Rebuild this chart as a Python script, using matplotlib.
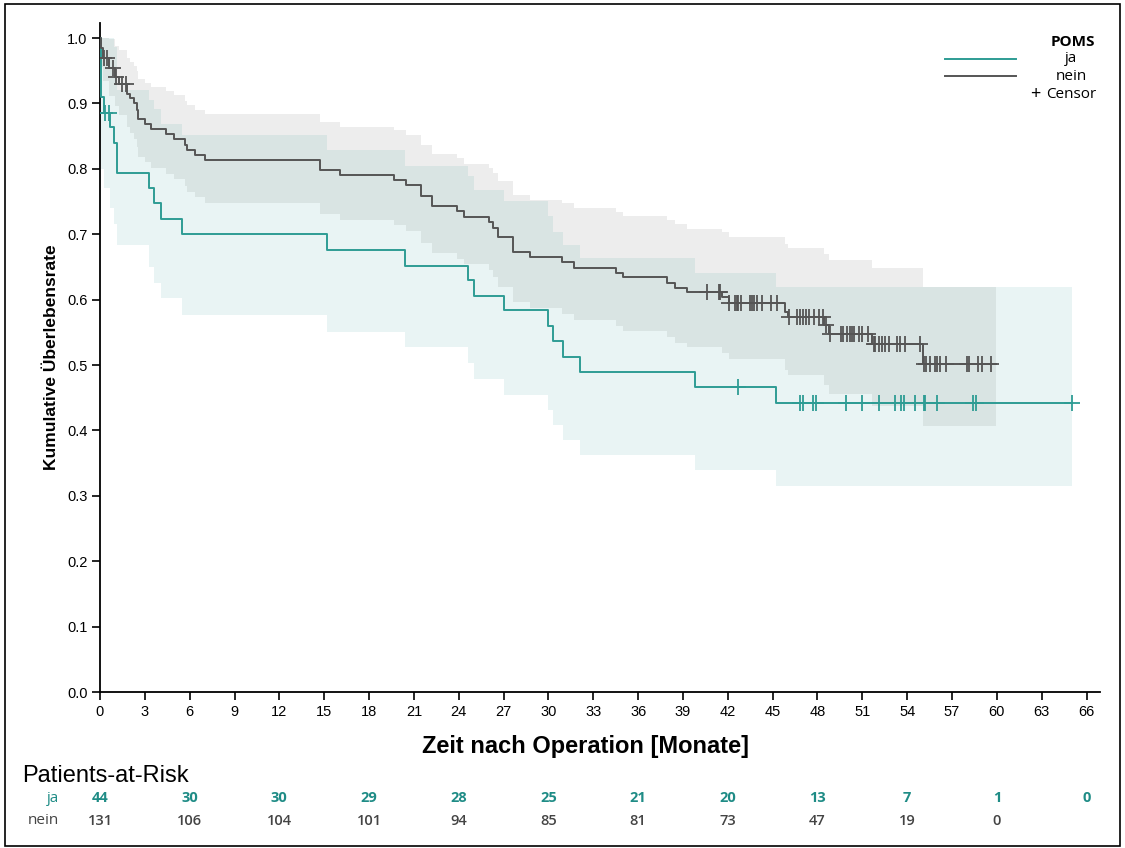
import numpy as np
import matplotlib
matplotlib.use("Agg")
import matplotlib.pyplot as plt
from matplotlib.patches import Rectangle

W, H = 1125, 848

TEAL = '#2e9c94'
TEAL_TXT = '#1f8c86'
GREY = '#555555'
GREY_TXT = '#444444'

# ---- Kaplan-Meier steps: time [months], survival, lower CI, upper CI
ja_t = [0, 0.1, 0.25, 0.7, 0.95, 1.15, 3.3, 3.6, 4.1, 5.5, 15.2, 20.4, 24.6, 25.0, 27.0,
        30.0, 30.3, 31.0, 32.1, 39.8, 45.2, 65.0]
ja_s = [1.0, 0.910, 0.886, 0.864, 0.840, 0.793, 0.770, 0.748, 0.723, 0.700, 0.676, 0.652,
        0.630, 0.606, 0.584, 0.560, 0.536, 0.513, 0.490, 0.466, 0.442, 0.442]
ja_lo = [1.0, 0.800, 0.770, 0.740, 0.715, 0.683, 0.650, 0.625, 0.602, 0.576, 0.551, 0.528,
         0.503, 0.478, 0.454, 0.431, 0.408, 0.385, 0.362, 0.339, 0.315, 0.315]
ja_hi = [1.0, 1.0, 1.0, 1.0, 0.987, 0.921, 0.905, 0.891, 0.868, 0.851, 0.829, 0.805,
         0.789, 0.768, 0.751, 0.728, 0.704, 0.684, 0.663, 0.641, 0.620, 0.620]
ja_cens = [0.35, 0.6, 42.7, 46.8, 47.0, 47.7, 47.9, 49.9, 51.0, 52.1, 53.2, 53.6, 53.8,
           54.5, 55.1, 55.2, 56.0, 58.4, 58.6, 65.0]

nein_t = [0, 0.1, 0.2, 0.6, 1.0, 1.3, 1.8, 2.0, 2.3, 2.45, 2.56, 3.0, 3.4, 4.4, 4.95, 5.7,
          5.8, 6.35, 7.05, 14.7, 16.05, 19.7, 20.5, 21.5, 22.2, 23.9, 24.35, 26.05, 26.3,
          26.65, 27.65, 28.75, 30.9, 31.7, 34.5, 35.0, 37.9, 38.5, 39.25, 41.6, 42.05,
          45.8, 46.0, 48.45, 48.8, 51.65, 55.05, 59.97]
nein_s = [1.0, 0.985, 0.969, 0.954, 0.941, 0.930, 0.915, 0.908, 0.900, 0.890, 0.876, 0.869,
          0.861, 0.853, 0.846, 0.836, 0.829, 0.821, 0.813, 0.798, 0.790, 0.783, 0.775,
          0.758, 0.743, 0.735, 0.727, 0.719, 0.709, 0.696, 0.673, 0.665, 0.657, 0.649,
          0.641, 0.634, 0.626, 0.618, 0.611, 0.604, 0.595, 0.581, 0.574, 0.561, 0.548,
          0.532, 0.502, 0.502]
nein_lo = [1.0, 0.955, 0.935, 0.912, 0.896, 0.882, 0.864, 0.855, 0.846, 0.834, 0.818, 0.810,
           0.801, 0.792, 0.784, 0.773, 0.765, 0.757, 0.748, 0.731, 0.722, 0.714, 0.705,
           0.687, 0.671, 0.662, 0.654, 0.645, 0.634, 0.620, 0.596, 0.587, 0.578, 0.569,
           0.560, 0.552, 0.543, 0.534, 0.527, 0.519, 0.509, 0.493, 0.485, 0.470, 0.455,
           0.437, 0.406, 0.406]
nein_hi = [1.0, 1.0, 1.0, 0.998, 0.988, 0.981, 0.969, 0.964, 0.957, 0.950, 0.938, 0.932,
           0.925, 0.919, 0.913, 0.904, 0.898, 0.890, 0.884, 0.871, 0.864, 0.859, 0.852,
           0.836, 0.823, 0.816, 0.808, 0.801, 0.793, 0.781, 0.760, 0.753, 0.747, 0.740,
           0.734, 0.728, 0.722, 0.715, 0.708, 0.703, 0.696, 0.685, 0.679, 0.670, 0.660,
           0.648, 0.620, 0.620]
nein_cens = [0.3, 0.5, 0.9, 1.1, 1.45, 1.75,
             40.6, 41.4, 41.5,
             42.1, 42.5, 42.6, 42.7, 42.85, 43.5, 43.6, 43.75, 43.95, 44.3, 44.9, 45.3,
             46.1, 46.65, 46.8, 47.0, 47.25, 47.4, 47.8, 48.1, 48.4, 48.6,
             48.85, 49.6, 49.7, 49.95, 50.2, 50.3, 50.45, 50.8, 50.95, 51.4,
             51.75, 51.85, 52.1, 52.3, 52.5, 52.8, 53.3, 53.55, 53.85, 54.85,
             55.1, 55.25, 55.5, 55.85, 56.0, 56.2, 56.6, 58.0, 58.15, 58.75, 59.0, 59.6]

# ---- patients at risk
risk_months = [0, 6, 12, 18, 24, 30, 36, 42, 48, 54, 60, 66]
risk_ja = [44, 30, 30, 29, 28, 25, 21, 20, 13, 7, 1, 0]
risk_nein = [131, 106, 104, 101, 94, 85, 81, 73, 47, 19, 0]

x_ticks = list(range(0, 67, 3))
y_ticks = [0.0, 0.1, 0.2, 0.3, 0.4, 0.5, 0.6, 0.7, 0.8, 0.9, 1.0]


def surv_at(times, surv, x):
    idx = np.searchsorted(times, x, side='right') - 1
    return np.asarray(surv)[idx]


fig = plt.figure(figsize=(W / 100, H / 100), dpi=100)
ax = fig.add_axes([100 / W, (H - 692) / H, 1000 / W, (692 - 23) / H])

ax.fill_between(nein_t, nein_lo, nein_hi, step='post', color=GREY, alpha=0.1, lw=0)
ax.fill_between(ja_t, ja_lo, ja_hi, step='post', color=TEAL, alpha=0.1, lw=0)
ax.step(ja_t, ja_s, where='post', color=TEAL, lw=1.4, zorder=3)
ax.step(nein_t, nein_s, where='post', color=GREY, lw=1.4, zorder=3)
ax.plot(ja_cens, surv_at(ja_t, ja_s, ja_cens), ls='none', marker='+', ms=11, mew=1.3,
        color=TEAL, zorder=4)
ax.plot(nein_cens, surv_at(nein_t, nein_s, nein_cens), ls='none', marker='+', ms=11,
        mew=1.3, color=GREY, zorder=4)

ax.set_xlim(0, 66.9)
ax.set_ylim(0, 1.023)
ax.set_xticks(x_ticks)
ax.set_yticks(y_ticks)
ax.set_yticklabels([f'{v:.1f}' for v in y_ticks])
for s in ['top', 'right']:
    ax.spines[s].set_visible(False)
for s in ['left', 'bottom']:
    ax.spines[s].set_linewidth(1.3)
ax.tick_params(direction='out', length=6, width=1.2, labelsize=10.5, pad=3)
for lab in ax.get_xticklabels() + ax.get_yticklabels():
    lab.set_fontfamily('Liberation Sans')
ax.margins(0)

ax.set_ylabel('Kumulative Überlebensrate', fontsize=12.5, fontweight='bold',
              family='Liberation Sans', labelpad=6)


def fx(px):
    return px / W


def fy(py):
    return 1 - py / H


fig.text(fx(585), fy(746), 'Zeit nach Operation [Monate]', ha='center', va='center',
         fontsize=17, fontweight='bold', family='Liberation Sans')

# legend
fig.text(fx(1073), fy(42), 'POMS', ha='center', va='center', fontsize=11,
         fontweight='bold', family='Open Sans')
fig.text(fx(1071), fy(59), 'ja', ha='center', va='center', fontsize=11, family='Open Sans')
fig.text(fx(1071), fy(76), 'nein', ha='center', va='center', fontsize=11, family='Open Sans')
fig.text(fx(1035), fy(94), '+', ha='center', va='center', fontsize=13, family='Open Sans')
fig.text(fx(1046), fy(94), 'Censor', ha='left', va='center', fontsize=11,
         family='Open Sans')
fig.add_artist(plt.Line2D([fx(945), fx(1016)], [fy(59), fy(59)], color=TEAL, lw=1.4))
fig.add_artist(plt.Line2D([fx(945), fx(1016)], [fy(76), fy(76)], color=GREY, lw=1.4))

# patients at risk table
fig.text(fx(22), fy(776), 'Patients-at-Risk', ha='left', va='center', fontsize=17,
         family='Liberation Sans')
tr = ax.get_xaxis_transform()
y_ja = (692 - 798) / (692 - 23)
y_nein = (692 - 821) / (692 - 23)
x_lab = (59 - 100) / 14.95
ax.text(x_lab, y_ja, 'ja', transform=tr, ha='right', va='center', color=TEAL_TXT,
        fontsize=11, family='Open Sans', clip_on=False)
ax.text(x_lab, y_nein, 'nein', transform=tr, ha='right', va='center', color=GREY_TXT,
        fontsize=11, family='Open Sans', clip_on=False)
for m, n in zip(risk_months, risk_ja):
    ax.text(m, y_ja, str(n), transform=tr, ha='center', va='center', color=TEAL_TXT,
            fontsize=10.5, fontweight='bold', family='Open Sans', clip_on=False)
for m, n in zip(risk_months, risk_nein):
    ax.text(m, y_nein, str(n), transform=tr, ha='center', va='center', color=GREY_TXT,
            fontsize=10.5, fontweight='semibold', family='Open Sans', clip_on=False)

# outer frame
fig.add_artist(Rectangle((fx(5), fy(846)), fx(1115), (846 - 4) / H, fill=False,
                         edgecolor='black', lw=1.2, transform=fig.transFigure))

fig.savefig('out.png', dpi=100)
